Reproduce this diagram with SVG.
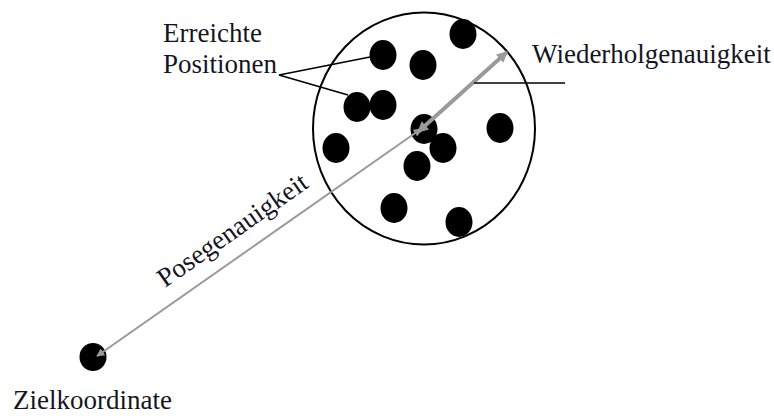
<svg xmlns="http://www.w3.org/2000/svg" width="774" height="416" viewBox="0 0 774 416">
  <style>
    .lbl { font-family: "Liberation Serif", "Times New Roman", serif; font-size: 27px; fill: #15151f; }
    .dot { fill: #000; }
    .lead { stroke: #000; stroke-width: 1.5; fill: none; }
    .gray { stroke: #9a9a9a; fill: none; }
  </style>
  <defs>
    <marker id="tipS" viewBox="0 0 10 10" refX="9" refY="5" markerWidth="11" markerHeight="8" markerUnits="userSpaceOnUse" orient="auto-start-reverse">
      <path d="M0,0 L10,5 L0,10 Z" fill="#9a9a9a"/>
    </marker>
    <marker id="tipL" viewBox="0 0 10 10" refX="9" refY="5" markerWidth="14" markerHeight="11" markerUnits="userSpaceOnUse" orient="auto-start-reverse">
      <path d="M0,0 L10,5 L0,10 Z" fill="#9a9a9a"/>
    </marker>
  </defs>

  <!-- spread of reached positions -->
  <g id="spread">
    <ellipse cx="424" cy="128.5" rx="111" ry="116" fill="none" stroke="#000" stroke-width="2"/>
  </g>

  <g id="positions">
    <ellipse class="dot" cx="463" cy="34" rx="13.5" ry="15"/>
    <ellipse class="dot" cx="383" cy="55" rx="13.5" ry="15"/>
    <ellipse class="dot" cx="423" cy="65" rx="13.5" ry="15"/>
    <ellipse class="dot" cx="357" cy="107" rx="13.5" ry="15"/>
    <ellipse class="dot" cx="383" cy="105" rx="13.5" ry="15"/>
    <ellipse class="dot" cx="424" cy="129" rx="13.5" ry="15"/>
    <ellipse class="dot" cx="443" cy="148" rx="13.5" ry="15"/>
    <ellipse class="dot" cx="500" cy="128" rx="13.5" ry="15"/>
    <ellipse class="dot" cx="336" cy="148" rx="13.5" ry="15"/>
    <ellipse class="dot" cx="417" cy="166" rx="13.5" ry="15"/>
    <ellipse class="dot" cx="394" cy="208" rx="13.5" ry="15"/>
    <ellipse class="dot" cx="459" cy="222" rx="13.5" ry="15"/>
  </g>

  <g id="target">
    <ellipse class="dot" cx="93" cy="357" rx="13.5" ry="14"/>
    <text class="lbl" x="13" y="409">Zielkoordinate</text>
  </g>

  <g id="connectors">
    <!-- Posegenauigkeit: target to mean position -->
    <line class="gray" x1="97" y1="356" x2="421" y2="129" stroke-width="2" marker-start="url(#tipS)" marker-end="url(#tipS)"/>
    <!-- Wiederholgenauigkeit: mean position to boundary -->
    <line class="gray" x1="418" y1="132" x2="507" y2="52" stroke-width="4" marker-start="url(#tipL)" marker-end="url(#tipL)"/>
    <!-- leader lines -->
    <polyline class="lead" points="370,57 279,75 348,95"/>
    <line class="lead" x1="474" y1="83" x2="565" y2="83"/>
  </g>

  <g id="labels">
    <text class="lbl" x="163" y="42">Erreichte</text>
    <text class="lbl" x="163" y="73">Positionen</text>
    <text class="lbl" x="532" y="63">Wiederholgenauigkeit</text>
    <text class="lbl" transform="translate(165,288) rotate(-35)">Posegenauigkeit</text>
  </g>
</svg>
